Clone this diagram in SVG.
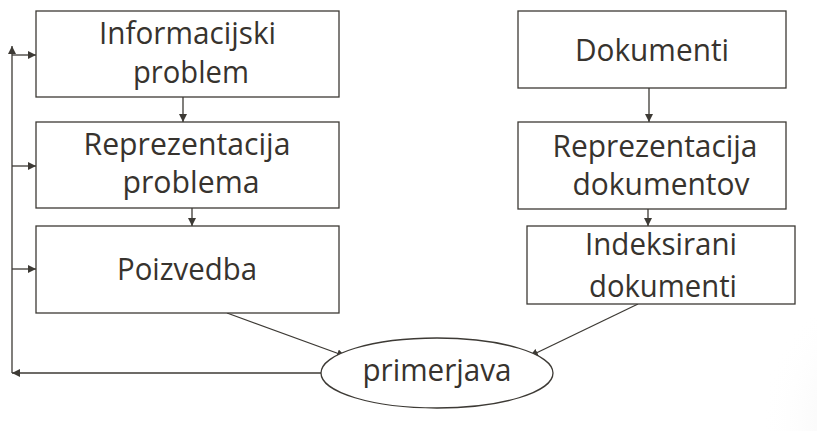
<svg xmlns="http://www.w3.org/2000/svg" width="817" height="431" viewBox="0 0 817 431">
  <defs>
    <style>
      .box { fill: #ffffff; stroke: #3d3a35; stroke-width: 1.3; }
      .lbl { font-family: "Open Sans", "Liberation Sans", sans-serif; font-size: 31px; fill: #37332e; text-anchor: middle; }
      .conn { fill: none; stroke: #3d3a35; stroke-width: 1.3; }
    </style>
    <marker id="ah" viewBox="0 0 10 10" refX="10" refY="5" markerWidth="8" markerHeight="8" markerUnits="userSpaceOnUse" orient="auto">
      <path d="M0,0 L10,5 L0,10 z" fill="#3d3a35"/>
    </marker>
    <radialGradient id="shade" cx="900" cy="420" r="140" gradientUnits="userSpaceOnUse">
      <stop offset="0" stop-color="#e6e6e6"/>
      <stop offset="1" stop-color="#ffffff" stop-opacity="0"/>
    </radialGradient>
  </defs>
  <rect width="817" height="431" fill="#ffffff"/>
  <rect x="700" y="250" width="117" height="181" fill="url(#shade)"/>

  <g id="connectors">
    <line class="conn" x1="183" y1="97" x2="183" y2="122" marker-end="url(#ah)"/>
    <line class="conn" x1="192" y1="208" x2="192" y2="226" marker-end="url(#ah)"/>
    <line class="conn" x1="649" y1="88" x2="649" y2="122" marker-end="url(#ah)"/>
    <line class="conn" x1="648" y1="209" x2="648" y2="226" marker-end="url(#ah)"/>
    <line class="conn" x1="227" y1="313" x2="345" y2="356" marker-end="url(#ah)"/>
    <line class="conn" x1="638" y1="304" x2="530" y2="356" marker-end="url(#ah)"/>
    <line class="conn" x1="321" y1="373" x2="12" y2="373" marker-end="url(#ah)"/>
    <line class="conn" x1="12" y1="373" x2="12" y2="46" marker-end="url(#ah)"/>
    <line class="conn" x1="12" y1="55" x2="36" y2="55" marker-end="url(#ah)"/>
    <line class="conn" x1="12" y1="166" x2="36" y2="166" marker-end="url(#ah)"/>
    <line class="conn" x1="12" y1="269" x2="36" y2="269" marker-end="url(#ah)"/>
  </g>

  <g id="informacijski-problem">
    <rect class="box" x="36" y="11" width="303" height="86"/>
    <text class="lbl" x="187.5" y="44" textLength="177" lengthAdjust="spacingAndGlyphs">Informacijski</text>
    <text class="lbl" x="191" y="83" textLength="116" lengthAdjust="spacingAndGlyphs">problem</text>
  </g>
  <g id="reprezentacija-problema">
    <rect class="box" x="36" y="122" width="303" height="86"/>
    <text class="lbl" x="187" y="155" textLength="207" lengthAdjust="spacingAndGlyphs">Reprezentacija</text>
    <text class="lbl" x="191" y="193" textLength="137" lengthAdjust="spacingAndGlyphs">problema</text>
  </g>
  <g id="poizvedba">
    <rect class="box" x="36" y="226" width="303" height="87"/>
    <text class="lbl" x="187" y="280" textLength="140" lengthAdjust="spacingAndGlyphs">Poizvedba</text>
  </g>
  <g id="dokumenti">
    <rect class="box" x="518" y="11" width="268" height="77"/>
    <text class="lbl" x="652" y="61" textLength="154" lengthAdjust="spacingAndGlyphs">Dokumenti</text>
  </g>
  <g id="reprezentacija-dokumentov">
    <rect class="box" x="518" y="122" width="268" height="87"/>
    <text class="lbl" x="655" y="157" textLength="205" lengthAdjust="spacingAndGlyphs">Reprezentacija</text>
    <text class="lbl" x="661" y="195" textLength="177" lengthAdjust="spacingAndGlyphs">dokumentov</text>
  </g>
  <g id="indeksirani-dokumenti">
    <rect class="box" x="527" y="226" width="268" height="78"/>
    <text class="lbl" x="661" y="255" textLength="152" lengthAdjust="spacingAndGlyphs">Indeksirani</text>
    <text class="lbl" x="663" y="297" textLength="148" lengthAdjust="spacingAndGlyphs">dokumenti</text>
  </g>
  <g id="primerjava">
    <ellipse class="box" cx="437" cy="373" rx="116" ry="35"/>
    <text class="lbl" x="437" y="381" textLength="149" lengthAdjust="spacingAndGlyphs">primerjava</text>
  </g>
</svg>
